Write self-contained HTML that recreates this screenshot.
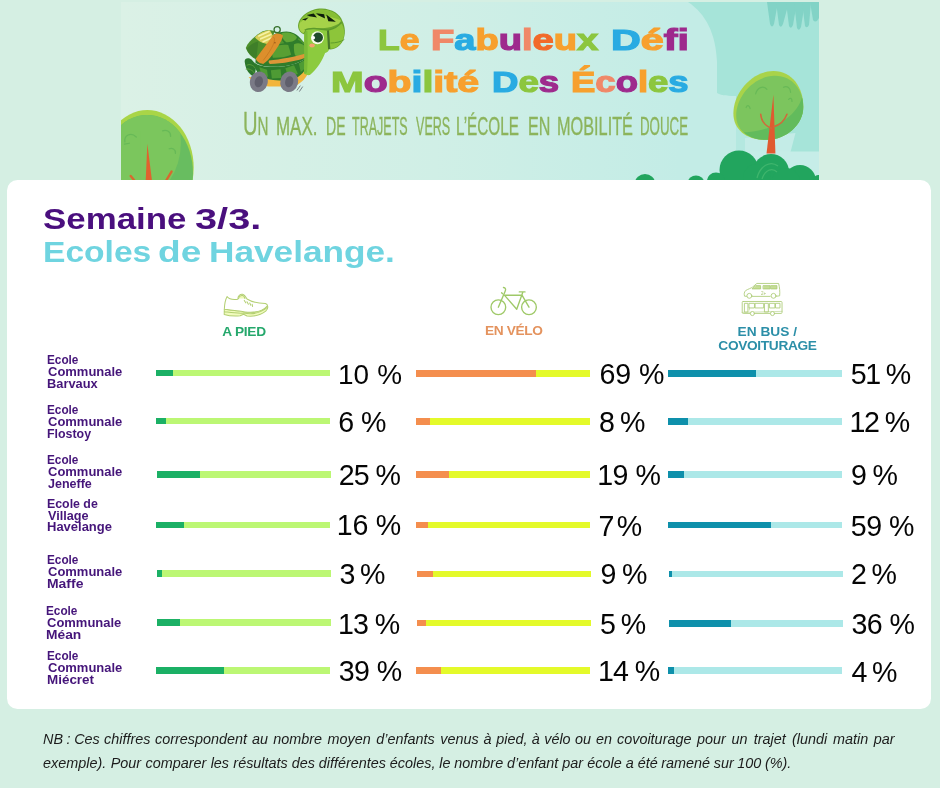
<!DOCTYPE html>
<html lang="fr">
<head>
<meta charset="utf-8">
<title>Le Fabuleux Défi Mobilité Des Écoles</title>
<style>
html,body{margin:0;padding:0}
body{width:940px;height:788px;overflow:hidden;background:#d5efe3;position:relative;font-family:"Liberation Sans",sans-serif}
#banner{position:absolute;left:121px;top:2px;width:698px;height:180px;background:#d8f0e8;overflow:hidden}
#card{position:absolute;left:7.2px;top:180.3px;width:923.9px;height:528.4px;background:#fff;border-radius:10.5px}
.t1,.t2{position:absolute;font-weight:bold;line-height:34px;white-space:nowrap;transform-origin:0 0}
.t1{color:#4a0f7e}
.t2{color:#6fd4e0}
.hd{position:absolute;font-weight:bold;line-height:16px;white-space:nowrap}
.lab{position:absolute;font-weight:bold;font-size:12px;line-height:14px;color:#45157a;white-space:nowrap;transform-origin:0 0}
.bar{position:absolute}
.bar i{display:block;height:100%}
.num{position:absolute;line-height:32px;color:#050505;white-space:nowrap}
.ft{position:absolute;transform-origin:0 0;font-style:italic;font-size:15px;line-height:24px;color:#1c1c1c;white-space:nowrap}
.bt{position:absolute;font-weight:bold;font-size:29px;-webkit-text-stroke:1.2px;line-height:36px;white-space:nowrap;transform-origin:0 0}
.st{position:absolute;-webkit-text-stroke:.35px;font-size:25.2px;line-height:30px;white-space:nowrap;transform-origin:0 0;color:#8cb45c;text-transform:uppercase}
.bigu{font-size:33.5px;line-height:0}
</style>
</head>
<body>
<div id="banner">
<svg id="bsvg" width="698" height="178" viewBox="121 2 698 178" style="position:absolute;left:0;top:0">
<defs>
<linearGradient id="bg" x1="0" x2="1" y1="0" y2="0">
<stop offset="0" stop-color="#dbf1e6"/><stop offset=".45" stop-color="#d0efe6"/><stop offset=".8" stop-color="#c3ece6"/><stop offset="1" stop-color="#c3ece6"/>
</linearGradient>
<clipPath id="ltc"><ellipse cx="268" cy="600" rx="332" ry="420"/></clipPath>
<clipPath id="rtc"><path d="M476,276 C476,176 566,80 664,78 C756,76 808,150 808,232 C808,320 724,392 632,395 C544,398 476,352 476,276Z"/></clipPath>
</defs>
<rect x="121" y="2" width="698" height="178" fill="url(#bg)"/>
<!-- right teal sky -->
<path d="M688,2 C706,14 716,34 717,62 L717,93 C722,96 730,96 736,96 L736,152 L819,152 L819,2 Z" fill="#a6e4d9"/>
<path d="M736,118 L760,118 L760,152 L736,152Z" fill="#b4e8e0"/>
<path d="M745,138 L795.5,133 L790.5,152 L745,152Z" fill="#c4ece7"/>
<path d="M736,151.5 L819,151.5 L819,180 L736,180Z" fill="#c6ede8"/>
<!-- hanging grass -->
<g fill="#82d3c6">
<path d="M767,2 L770,24 Q772,29 774,24 L778,2Z"/>
<path d="M776,2 L779,25 Q781,29 783,24 L789,2Z"/>
<path d="M786,2 L789,26 Q791,30 793,25 L797,2Z"/>
<path d="M794,2 L797,28 Q799,32 801,27 L805,2Z"/>
<path d="M802,2 L805,26 Q807,29 809,25 L811,2Z"/>
<path d="M810,2 L813,20 Q816,24 819,18 L819,2Z"/>
</g>
<!-- left tree -->
<g transform="translate(110,90) scale(0.13830)">
<ellipse cx="270" cy="560" rx="335" ry="415" fill="#a9d547"/>
<ellipse cx="268" cy="600" rx="332" ry="420" fill="#68bd60"/>
<g clip-path="url(#ltc)"><ellipse cx="217" cy="376" rx="296" ry="403" fill="#7bc65d"/><rect x="0" y="300" width="217" height="400" fill="#7bc65d"/></g>
<g fill="none" stroke="#67b957" stroke-width="9" stroke-linecap="round">
<path d="M108,375 C100,330 150,300 190,340"/><path d="M105,392 L140,385"/>
<path d="M380,295 C410,285 440,300 438,335"/>
<path d="M428,425 C450,415 475,430 473,458"/>
</g>
<path d="M270,388 L258,660 L304,660 Z" fill="#e0622e"/>
<path d="M150,622 L185,665 M445,590 L400,665" stroke="#d9682f" stroke-width="17" stroke-linecap="round"/>
</g>
<!-- right tree -->
<g transform="translate(640,60) scale(0.20213)">
<path d="M462,265 C462,160 555,55 660,55 C755,55 808,140 808,230 C808,320 725,390 630,395 C535,400 462,350 462,265Z" fill="#a9d34a"/>
<path d="M476,276 C476,176 566,80 664,78 C756,76 808,150 808,232 C808,320 724,392 632,395 C544,398 476,352 476,276Z" fill="#7cc55e"/>
<g clip-path="url(#rtc)"><path d="M808,150 C800,260 690,350 500,360 L520,420 L830,420Z" fill="#62bb5c"/></g>
<g fill="none" stroke="#68b957" stroke-width="6" stroke-linecap="round">
<path d="M572,168 C580,135 610,125 628,145"/><path d="M710,135 C728,125 745,140 745,160"/><path d="M525,235 C530,222 540,222 545,240"/><path d="M735,195 C745,185 752,190 752,205"/>
</g>
<path d="M660,172 L626,462 L670,462 Z" fill="#e05a30"/>
<path d="M597,268 C600,305 620,325 650,338 M727,268 C715,300 695,320 662,330" fill="none" stroke="#d2683a" stroke-width="7.5" stroke-linecap="round"/>
</g>
<!-- bushes -->
<g fill="#22a55e">
<circle cx="739" cy="170" r="19.5"/><circle cx="771" cy="172" r="18"/><circle cx="800" cy="181" r="16"/><circle cx="757" cy="178" r="14"/><circle cx="786" cy="182" r="14"/>
<ellipse cx="716" cy="181" rx="9" ry="8.5"/><ellipse cx="696" cy="182" rx="8" ry="6.5"/><ellipse cx="645" cy="183" rx="10" ry="9"/><ellipse cx="818" cy="181" rx="5" ry="6"/>
</g>
<path d="M757,178 C760,166 770,160 778,166 M762,179 C765,170 772,167 777,172" fill="none" stroke="#3fb56d" stroke-width="1.3"/>
<g transform="translate(240,20) scale(0.09650)">
<!-- belly / plastron -->
<path d="M270,600 C380,640 560,610 700,490 L720,520 C690,600 640,650 560,690 L300,690 C200,680 130,640 90,590 Z" fill="#f2b53c"/>
<!-- back leg / tail dark -->
<path d="M50,440 C40,400 80,380 120,410 L170,470 L150,590 C100,570 60,520 50,440Z" fill="#2c772b"/>
<path d="M70,470 C100,450 140,470 160,500 M60,510 C90,500 130,520 150,550" stroke="#5c9f3b" stroke-width="10" fill="none"/>
<!-- shell rim (dark) -->
<path d="M150,440 C190,480 320,500 460,480 C580,460 660,420 700,380 C710,460 680,540 600,590 C520,630 380,640 280,610 C200,590 150,520 150,440Z" fill="#2d7b2b"/>
<path d="M320,520 L420,510 L430,600 L330,605Z M470,500 L560,470 L600,560 L500,590Z M200,490 L280,515 L290,590 L220,560Z M610,450 L680,410 L675,500 L630,540Z" fill="#4e9b34"/>
<!-- shell dome -->
<path d="M160,440 C170,280 300,120 480,120 C600,125 690,230 700,380 C650,430 560,465 450,478 C320,495 200,480 160,440Z" fill="#2f7d2b"/>
<path d="M430,140 C470,120 560,130 590,180 C580,220 520,235 480,230 C450,210 430,180 430,140Z" fill="#62a836"/>
<path d="M340,290 C380,260 450,250 500,260 L530,360 C480,385 400,395 340,390 C330,350 330,320 340,290Z" fill="#589f33"/>
<path d="M560,250 C600,235 640,240 670,270 C685,310 690,350 685,375 C650,385 600,380 570,365 C560,330 555,290 560,250Z" fill="#62a836"/>
<path d="M330,200 C350,170 390,150 410,150 C420,190 440,220 460,240 C420,245 370,255 335,275 C325,250 325,225 330,200Z" fill="#4f9631"/>
<path d="M600,190 C640,200 670,230 680,260 L655,250 C640,230 620,215 600,205Z" fill="#4f9631"/>
<!-- backpack -->
<path d="M60,290 C80,230 150,170 230,120 C280,100 330,100 360,120 L230,430 C160,420 90,370 60,290Z" fill="#4d8f2b"/>
<path d="M70,300 C100,260 150,230 190,220 L170,400 C120,380 85,345 70,300Z" fill="#3f7f29"/>
<path d="M155,180 C190,140 250,110 310,105 L345,170 L290,250 C240,245 185,220 155,180Z" fill="#d9cf58"/>
<path d="M195,165 L300,120 M215,195 L320,150 M240,225 L330,185" stroke="#f6f3a6" stroke-width="17" stroke-linecap="round"/>
<circle cx="385" cy="100" r="32" fill="none" stroke="#35702a" stroke-width="13"/>
<path d="M340,160 C370,130 420,135 445,160 C440,200 400,270 350,340 C310,400 270,440 240,455 C200,450 170,430 165,400 C210,340 290,230 340,160Z" fill="#dd8f2c"/>
<path d="M345,175 C380,200 340,290 240,420" stroke="#c97c22" stroke-width="10" fill="none"/>
<circle cx="362" cy="236" r="7" fill="#8a4d18"/>
<path d="M300,420 C420,410 580,380 700,340 L705,380 C600,425 440,450 310,455 C295,445 295,430 300,420Z" fill="#dd9638"/>
<!-- wheels -->
<ellipse cx="195" cy="640" rx="92" ry="108" fill="#7a7a86" transform="rotate(14 195 640)"/>
<ellipse cx="195" cy="640" rx="42" ry="58" fill="#5f5f6c" transform="rotate(14 195 640)"/>
<ellipse cx="510" cy="640" rx="92" ry="108" fill="#7a7a86" transform="rotate(14 510 640)"/>
<ellipse cx="510" cy="640" rx="42" ry="58" fill="#5f5f6c" transform="rotate(14 510 640)"/>
<path d="M590,730 L625,680 M615,742 L650,690" stroke="#4a4a55" stroke-width="7"/>
</g>
<g transform="translate(290,2) scale(0.08122)">
<!-- head -->
<path d="M180,350 C220,310 330,320 470,340 L490,570 C475,610 455,625 432,628 C400,720 330,830 245,900 C215,905 185,895 172,878 C185,760 180,640 178,520 C172,460 170,400 180,350Z" fill="#8ccb3e"/>
<path d="M180,350 C172,480 182,700 172,878 C190,890 205,880 210,860 C225,700 215,480 215,360Z" fill="#7abb36"/>
<ellipse cx="272" cy="536" rx="34" ry="24" fill="#f2a26e"/>
<circle cx="338" cy="440" r="80" fill="#f7fde8"/>
<circle cx="345" cy="438" r="61" fill="#1f4b2a"/>
<circle cx="288" cy="440" r="21" fill="#fff"/>
<!-- helmet -->
<path d="M100,310 C95,180 240,80 390,80 C520,85 620,150 645,235 C680,300 690,400 650,480 C620,540 560,580 495,585 L470,575 L465,350 C380,330 260,325 200,345 L175,400 C130,380 105,350 100,310Z" fill="#6aa52e"/>
<path d="M112,305 C110,200 250,95 390,95 C505,98 600,155 628,235 L600,268 C480,340 330,320 200,330 L165,385 C130,365 113,340 112,305Z" fill="#a6d249"/>
<path d="M118,260 C150,160 270,96 390,96 C500,98 590,150 625,225 C560,200 470,170 380,160 C280,160 180,200 118,260Z" fill="#86be34"/>
<path d="M148,215 L228,192 L190,228Z M205,160 L292,143 L332,192 L242,176Z M320,140 L420,150 L432,203 L352,166Z M446,155 L565,243 L472,236Z" fill="#0e1d0c"/>
<path d="M478,345 C530,330 590,300 632,262 C672,320 680,400 648,470 C620,530 560,570 498,575Z" fill="#8dc53a"/>
<path d="M498,505 C560,505 630,490 668,462" stroke="#5d9a2b" stroke-width="12" fill="none"/>
<path d="M180,345 C250,315 330,325 470,345 C540,330 600,295 635,250" stroke="#5d9a2b" stroke-width="16" fill="none"/>
<path d="M468,352 L482,580" stroke="#47782a" stroke-width="26"/>
</g>

</svg>
<div class="bt" style="left:257.3px;top:20px;transform:scaleX(1.2207)"><span style="color:#8cc63f">L</span><span style="color:#f7a02e">e</span></div>
<div class="bt" style="left:310.43px;top:20px;transform:scaleX(1.3130)"><span style="color:#f08868">F</span><span style="color:#29abe2">a</span><span style="color:#f7a02e">b</span><span style="color:#9e2a8d">u</span><span style="color:#f08868">l</span><span style="color:#f26a2a">e</span><span style="color:#f7a02e">u</span><span style="color:#8cc63f">x</span></div>
<div class="bt" style="left:490.42px;top:20px;transform:scaleX(1.4227)"><span style="color:#29abe2">D</span><span style="color:#f7a02e">é</span><span style="color:#9e2a8d">f</span><span style="color:#9e2a8d">i</span></div>
<div class="bt" style="left:210.05px;top:62px;transform:scaleX(1.3512)"><span style="color:#8cc63f">M</span><span style="color:#9e2a8d">o</span><span style="color:#f7a02e">b</span><span style="color:#29abe2">i</span><span style="color:#8cc63f">l</span><span style="color:#f7a02e">i</span><span style="color:#f7a02e">t</span><span style="color:#f7a02e">é</span></div>
<div class="bt" style="left:370.72px;top:62px;transform:scaleX(1.2617)"><span style="color:#29abe2">D</span><span style="color:#8cc63f">e</span><span style="color:#9e2a8d">s</span></div>
<div class="bt" style="left:449.93px;top:62px;transform:scaleX(1.2577)"><span style="color:#f7a02e">É</span><span style="color:#f08868">c</span><span style="color:#9e2a8d">o</span><span style="color:#f7a02e">l</span><span style="color:#8cc63f">e</span><span style="color:#29abe2">s</span></div>
<div class="st" style="left:122.08px;top:109px;transform:scaleX(0.6030)"><span class="bigu">U</span>n</div>
<div class="st" style="left:155.24px;top:109px;font-size:25.2px;transform:scaleX(0.6730)">max.</div>
<div class="st" style="left:204.97px;top:109px;font-size:25.2px;transform:scaleX(0.5584)">de</div>
<div class="st" style="left:231.29px;top:109px;font-size:25.2px;transform:scaleX(0.4971)">trajets</div>
<div class="st" style="left:295.24px;top:109px;font-size:25.2px;transform:scaleX(0.4994)">vers</div>
<div class="st" style="left:335.38px;top:109px;font-size:25.2px;transform:scaleX(0.6067)">l’école</div>
<div class="st" style="left:406.61px;top:109px;font-size:25.2px;transform:scaleX(0.6382)">en</div>
<div class="st" style="left:436.1px;top:109px;font-size:25.2px;transform:scaleX(0.6461)">mobilité</div>
<div class="st" style="left:519.33px;top:109px;font-size:25.2px;transform:scaleX(0.5287)">douce</div>

</div>
<div id="card"></div>
<div class="t1" style="left:43.25px;top:202px;font-size:30px;transform:scaleX(1.1619)">Semaine</div>
<div class="t1" style="left:195.41px;top:202px;font-size:30px;transform:scaleX(1.3249)">3/3.</div>
<div class="t2" style="left:42.82px;top:235px;font-size:30px;transform:scaleX(1.1197)">Ecoles</div>
<div class="t2" style="left:158.32px;top:235px;font-size:30px;transform:scaleX(1.2355)">de</div>
<div class="t2" style="left:209.21px;top:235px;font-size:30px;transform:scaleX(1.1735)">Havelange.</div>
<div class="hd" style="left:222.26px;top:324px;font-size:13.7px;letter-spacing:-0.25px;color:#25a86c">A PIED</div>
<div class="hd" style="left:485.01px;top:323px;font-size:13.7px;letter-spacing:-0.36px;color:#e4935e">EN VÉLO</div>
<div class="hd" style="left:737.51px;top:324px;font-size:13.7px;letter-spacing:0.02px;color:#2c8fa8">EN BUS /</div>
<div class="hd" style="left:718.35px;top:338px;font-size:13.7px;letter-spacing:-0.33px;color:#2c8fa8">COVOITURAGE</div>
<svg width="940" height="60" viewBox="0 275 940 60" style="position:absolute;left:0;top:275px;overflow:visible">
<!-- shoe -->
<g transform="translate(215,285) scale(0.068085)" fill="none" stroke="#b3cf72" stroke-width="15" stroke-linejoin="round" stroke-linecap="round">
<path d="M137,355 L135,432 C200,452 300,458 370,452 L420,430 L470,455 C580,465 690,430 745,385 C770,360 780,325 770,305 C690,400 560,410 440,395 C330,380 230,365 137,355Z" fill="#f0fbbd"/>
<path d="M137,355 C140,290 150,220 178,170 C200,200 260,218 335,208 C335,160 370,130 405,135 C435,140 450,170 470,205 C540,250 640,268 740,272 C760,280 772,292 770,305 C690,400 560,410 440,395 C330,380 230,365 137,355Z" fill="#fff"/>
<path d="M345,200 C350,165 380,150 405,155 C425,160 435,180 440,200" fill="#eef9b5"/>
<path d="M137,392 C240,405 330,420 420,412 C520,432 660,420 768,330"/>
<path d="M430,228 L452,262 M470,246 L490,282 M510,264 L526,298 M546,284 L552,316"/>
</g>
<!-- bike -->
<g transform="translate(482,281) scale(0.068085)" fill="none" stroke="#9fc968" stroke-width="20" stroke-linecap="round" stroke-linejoin="round">
<circle cx="240" cy="385" r="108"/><circle cx="690" cy="385" r="108"/>
<path d="M240,385 L340,150 C355,120 345,100 315,95"/>
<path d="M330,210 L592,210 M335,215 L510,415 L598,170 M548,160 L632,160 M592,215 L690,385"/>
<path d="M288,172 L300,186"/>
</g>
<!-- van + bus -->
<g transform="translate(732,278) scale(0.068085)" fill="none" stroke="#aecd7a" stroke-width="13" stroke-linejoin="round" stroke-linecap="round">
<path d="M215,268 L185,268 C175,240 178,205 200,185 C240,160 280,150 300,135 L365,80 L685,80 C700,140 705,200 700,262 L650,268 M300,270 L560,270"/>
<circle cx="255" cy="262" r="36"/><circle cx="610" cy="262" r="36"/>
<path d="M352,112 L420,112 L420,160 L300,160 Z" fill="#c6de96"/>
<path d="M462,112 L560,112 L560,160 L462,160Z M575,112 L660,112 L660,160 L575,160Z" fill="#c6de96"/>
<rect x="150" y="345" width="585" height="175" rx="14"/>
<rect x="188" y="372" width="46" height="128"/><rect x="482" y="372" width="52" height="128"/>
<path d="M255,372 L330,372 L330,440 L255,440Z M345,372 L465,372 L465,440 L345,440Z M555,372 L630,372 L630,440 L555,440Z M645,372 L705,372 L705,440 L645,440Z"/>
<path d="M255,440 L255,470 M150,505 L735,490" stroke-width="8"/>
<circle cx="300" cy="522" r="30" fill="#fff"/><circle cx="595" cy="522" r="30" fill="#fff"/>
</g>
<text x="763.5" y="294.6" font-family="Liberation Sans, sans-serif" font-size="4.6" fill="#a9c574" text-anchor="middle">2+</text>
</svg>

<div class="lab" id="l00" style="left:47.43px;top:353px;transform:scaleX(0.981)">Ecole</div>
<div class="lab" id="l01" style="left:47.68px;top:365px;transform:scaleX(1.082)">Communale</div>
<div class="lab" id="l02" style="left:47.37px;top:377px;transform:scaleX(1.070)">Barvaux</div>
<div class="bar" style="left:155.75px;top:370px;width:173.75px;height:6.25px;background:#bcf774"><i style="width:10%;background:#1bb065"></i></div>
<div class="bar" style="left:416.25px;top:370.2px;width:173.75px;height:6.7px;background:#e4fa2a"><i style="width:69%;background:#f48e4e"></i></div>
<div class="bar" style="left:667.5px;top:370.2px;width:174.25px;height:6.7px;background:#ace8e8"><i style="width:51%;background:#0e90ab"></i></div>
<div class="num" id="n0L" style="left:337.9px;top:359px;font-size:27.9px;letter-spacing:0.22px">10 %</div>
<div class="num" id="n0M" style="left:599.42px;top:358px;font-size:28.6px;letter-spacing:-0.09px">69 %</div>
<div class="num" id="n0R" style="left:850.84px;top:358px;font-size:28.6px;letter-spacing:-1.6px">51 %</div>
<div class="lab" id="l10" style="left:47.43px;top:403px;transform:scaleX(0.981)">Ecole</div>
<div class="lab" id="l11" style="left:47.68px;top:415px;transform:scaleX(1.082)">Communale</div>
<div class="lab" id="l12" style="left:47.39px;top:427px;transform:scaleX(1.033)">Flostoy</div>
<div class="bar" style="left:155.75px;top:418px;width:173.75px;height:6.25px;background:#bcf774"><i style="width:6%;background:#1bb065"></i></div>
<div class="bar" style="left:416.25px;top:418.25px;width:173.75px;height:6.75px;background:#e4fa2a"><i style="width:8%;background:#f48e4e"></i></div>
<div class="bar" style="left:667.5px;top:418.25px;width:174.25px;height:6.75px;background:#ace8e8"><i style="width:12%;background:#0e90ab"></i></div>
<div class="num" id="n1L" style="left:338.37px;top:406px;font-size:28.6px;letter-spacing:-0.65px">6 %</div>
<div class="num" id="n1M" style="left:598.9px;top:406px;font-size:28.6px;letter-spacing:-1.32px">8 %</div>
<div class="num" id="n1R" style="left:849.58px;top:406px;font-size:28.6px;letter-spacing:-1.49px">12 %</div>
<div class="lab" id="l20" style="left:47.43px;top:453px;transform:scaleX(0.981)">Ecole</div>
<div class="lab" id="l21" style="left:47.68px;top:465px;transform:scaleX(1.082)">Communale</div>
<div class="lab" id="l22" style="left:48.01px;top:477px;transform:scaleX(1.043)">Jeneffe</div>
<div class="bar" style="left:157px;top:471px;width:173.5px;height:6.5px;background:#bcf774"><i style="width:25%;background:#1bb065"></i></div>
<div class="bar" style="left:415.75px;top:470.75px;width:174.25px;height:6.75px;background:#e4fa2a"><i style="width:19%;background:#f48e4e"></i></div>
<div class="bar" style="left:668px;top:470.75px;width:173.75px;height:6.75px;background:#ace8e8"><i style="width:9%;background:#0e90ab"></i></div>
<div class="num" id="n2L" style="left:338.8px;top:459px;font-size:28.6px;letter-spacing:-1.04px">25 %</div>
<div class="num" id="n2M" style="left:597.25px;top:459px;font-size:28.6px;letter-spacing:-0.54px">19 %</div>
<div class="num" id="n2R" style="left:851px;top:459px;font-size:28.6px;letter-spacing:-1.22px">9 %</div>
<div class="lab" id="l30" style="left:47.4px;top:497px;transform:scaleX(1.029)">Ecole de</div>
<div class="lab" id="l31" style="left:48.07px;top:509px;transform:scaleX(1.055)">Village</div>
<div class="lab" id="l32" style="left:47.36px;top:520px;transform:scaleX(1.082)">Havelange</div>
<div class="bar" style="left:155.75px;top:521.75px;width:173.75px;height:6.25px;background:#bcf774"><i style="width:16%;background:#1bb065"></i></div>
<div class="bar" style="left:415.75px;top:521.75px;width:174.25px;height:6.5px;background:#e4fa2a"><i style="width:7%;background:#f48e4e"></i></div>
<div class="bar" style="left:668px;top:521.75px;width:173.75px;height:6.5px;background:#ace8e8"><i style="width:59%;background:#0e90ab"></i></div>
<div class="num" id="n3L" style="left:336.79px;top:509px;font-size:28.6px;letter-spacing:-0.25px">16 %</div>
<div class="num" id="n3M" style="left:598.42px;top:510px;font-size:28.6px;letter-spacing:-2.75px">7 %</div>
<div class="num" id="n3R" style="left:850.79px;top:510px;font-size:28.6px;letter-spacing:-0.49px">59 %</div>
<div class="lab" id="l40" style="left:47.43px;top:553px;transform:scaleX(0.981)">Ecole</div>
<div class="lab" id="l41" style="left:47.68px;top:565px;transform:scaleX(1.082)">Communale</div>
<div class="lab" id="l42" style="left:47.29px;top:577px;transform:scaleX(1.162)">Maffe</div>
<div class="bar" style="left:157px;top:570px;width:173.5px;height:6.5px;background:#bcf774"><i style="width:3%;background:#1bb065"></i></div>
<div class="bar" style="left:417px;top:570.75px;width:174.25px;height:6.25px;background:#e4fa2a"><i style="width:9%;background:#f48e4e"></i></div>
<div class="bar" style="left:668.75px;top:570.75px;width:173.75px;height:6.25px;background:#ace8e8"><i style="width:2%;background:#0e90ab"></i></div>
<div class="num" id="n4L" style="left:339.53px;top:558px;font-size:28.6px;letter-spacing:-1.69px">3 %</div>
<div class="num" id="n4M" style="left:600.42px;top:558px;font-size:28.6px;letter-spacing:-1.12px">9 %</div>
<div class="num" id="n4R" style="left:850.9px;top:558px;font-size:28.6px;letter-spacing:-1.6px">2 %</div>
<div class="lab" id="l50" style="left:46.43px;top:604px;transform:scaleX(0.981)">Ecole</div>
<div class="lab" id="l51" style="left:46.68px;top:616px;transform:scaleX(1.082)">Communale</div>
<div class="lab" id="l52" style="left:46.3px;top:628px;transform:scaleX(1.149)">Méan</div>
<div class="bar" style="left:157px;top:619px;width:173.5px;height:6.5px;background:#bcf774"><i style="width:13%;background:#1bb065"></i></div>
<div class="bar" style="left:417px;top:620px;width:174.25px;height:6.25px;background:#e4fa2a"><i style="width:5%;background:#f48e4e"></i></div>
<div class="bar" style="left:668.75px;top:620px;width:173.75px;height:6.5px;background:#ace8e8"><i style="width:36%;background:#0e90ab"></i></div>
<div class="num" id="n5L" style="left:338.05px;top:608px;font-size:28.6px;letter-spacing:-0.99px">13 %</div>
<div class="num" id="n5M" style="left:600.09px;top:608px;font-size:28.6px;letter-spacing:-1.54px">5 %</div>
<div class="num" id="n5R" style="left:851.43px;top:608px;font-size:28.6px;letter-spacing:-0.59px">36 %</div>
<div class="lab" id="l60" style="left:47.43px;top:649px;transform:scaleX(0.981)">Ecole</div>
<div class="lab" id="l61" style="left:47.68px;top:661px;transform:scaleX(1.082)">Communale</div>
<div class="lab" id="l62" style="left:47.33px;top:673px;transform:scaleX(1.119)">Miécret</div>
<div class="bar" style="left:155.75px;top:667px;width:173.75px;height:6.75px;background:#bcf774"><i style="width:39%;background:#1bb065"></i></div>
<div class="bar" style="left:416.25px;top:667px;width:173.75px;height:6.75px;background:#e4fa2a"><i style="width:14%;background:#f48e4e"></i></div>
<div class="bar" style="left:667.5px;top:667px;width:174.25px;height:6.75px;background:#ace8e8"><i style="width:4%;background:#0e90ab"></i></div>
<div class="num" id="n6L" style="left:338.66px;top:655px;font-size:28.6px;letter-spacing:-0.55px">39 %</div>
<div class="num" id="n6M" style="left:598.04px;top:655px;font-size:28.6px;letter-spacing:-0.99px">14 %</div>
<div class="num" id="n6R" style="left:851.39px;top:656px;font-size:28.6px;letter-spacing:-1.61px">4 %</div>
<div class="ft" style="left:43.37px;top:727px;transform:scaleX(0.96)"><span>NB</span> <span style="margin-left:-0.51px">:</span> <span style="margin-left:-0.44px">Ces</span> <span style="margin-left:0.26px">chiffres</span> <span style="margin-left:0.54px">correspondent</span> <span style="margin-left:1.03px">au</span> <span style="margin-left:1.28px">nombre</span> <span style="margin-left:1.64px">moyen</span> <span style="margin-left:1.49px">d’enfants</span> <span style="margin-left:1.54px">venus</span> <span style="margin-left:0.94px">à</span> <span style="margin-left:0.72px">pied,</span> <span style="margin-left:0.36px">à</span> <span style="margin-left:0.37px">vélo</span> <span style="margin-left:0.38px">ou</span> <span style="margin-left:0.93px">en</span> <span style="margin-left:1.15px">covoiturage</span> <span style="margin-left:1.56px">pour</span> <span style="margin-left:1.89px">un</span> <span style="margin-left:2.28px">trajet</span> <span style="margin-left:2.17px">(lundi</span> <span style="margin-left:1.93px">matin</span> <span style="margin-left:1.64px">par</span></div>
<div class="ft" style="left:42.95px;top:751px;transform:scaleX(0.96)"><span>exemple).</span> <span style="margin-left:0.49px">Pour</span> <span style="margin-left:0.40px">comparer</span> <span style="margin-left:0.33px">les</span> <span style="margin-left:0.29px">résultats</span> <span style="margin-left:-0.06px">des</span> <span style="margin-left:-0.18px">différentes</span> <span style="margin-left:-0.28px">écoles,</span> <span style="margin-left:-0.16px">le</span> <span style="margin-left:-0.17px">nombre</span> <span style="margin-left:-0.08px">d’enfant</span> <span style="margin-left:-0.07px">par</span> <span style="margin-left:0.17px">école</span> <span style="margin-left:0.04px">a</span> <span style="margin-left:-0.03px">été</span> <span style="margin-left:-0.51px">ramené</span> <span style="margin-left:-0.42px">sur</span> <span style="margin-left:-0.44px">100</span> <span style="margin-left:-0.40px">(%).</span></div>
</body>
</html>
